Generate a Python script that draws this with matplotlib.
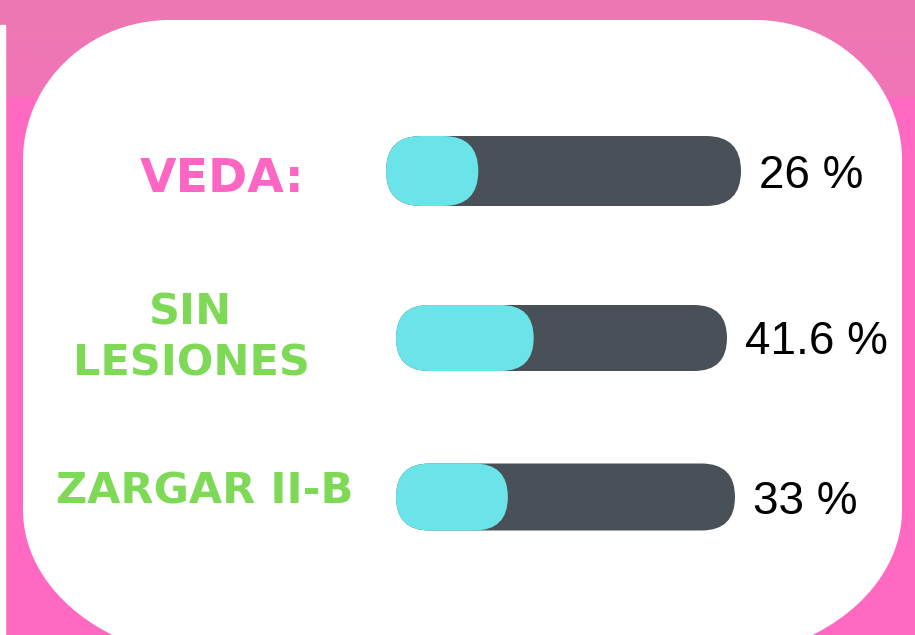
import numpy as np
import matplotlib
matplotlib.use('Agg')
import matplotlib.pyplot as plt
from matplotlib.patches import FancyBboxPatch, Rectangle, Polygon

# DATA
labels = ["VEDA:", "SIN\nLESIONES", "ZARGAR II-B"]
values = [26, 41.6, 33]
value_text = ["26 %", "41.6 %", "33 %"]
label_colors = ["#ff66c4", "#7ed957", "#7ed957"]

# LAYOUT (pixel coords, y down)
W, H = 915, 635
track_x = [386, 396, 396]
track_w = [355, 331, 339]
track_cy = [171, 338, 497]
track_h = [70, 66, 67]
label_cx = [222, 191, 205]
label_cy = [180, 338, 491]
label_size = [34, 31, 31]

fig = plt.figure(figsize=(W / 100, H / 100), dpi=100)
ax = fig.add_axes([0, 0, 1, 1])
ax.set_xlim(0, W)
ax.set_ylim(H, 0)
ax.axis('off')

# background: muted pink band on top, brighter pink below
ax.add_patch(Rectangle((0, 0), W, H, color="#ff69c1", zorder=0))
grad = np.linspace(0, 1, 100).reshape(-1, 1)
top_cmap = matplotlib.colors.LinearSegmentedColormap.from_list("t", ["#ec79b2", "#f274b8"])
ax.imshow(grad, cmap=top_cmap, extent=(0, W, 97, 0), aspect='auto', zorder=0.5)
ax.add_patch(Rectangle((0, 25), 5, H, color="white", zorder=0.6))


# white card, elliptical corners (bigger ones at the bottom)
def card_outline(left, top, right, bottom, tr, br):
    pts = []
    t = np.linspace(0, np.pi / 2, 40)
    # top-left, top-right, bottom-right, bottom-left
    rx, ry = tr
    pts += list(zip(left + rx - rx * np.cos(t), top + ry - ry * np.sin(t)))
    pts += list(zip(right - rx + rx * np.sin(t), top + ry - ry * np.cos(t)))
    rx, ry = br
    pts += list(zip(right - rx + rx * np.cos(t), bottom - ry + ry * np.sin(t)))
    pts += list(zip(left + rx - rx * np.sin(t), bottom - ry + ry * np.cos(t)))
    return np.array(pts)


ax.add_patch(Polygon(card_outline(23, 20, 902, 660, (147, 140), (200, 150)),
                     closed=True, fc="white", ec="none", zorder=1))


def pill(x, cy, w, h, color, z):
    p = FancyBboxPatch((x, cy - h / 2), w, h,
                       boxstyle=f"round,pad=0,rounding_size={h / 2}",
                       fc=color, ec="none", zorder=z)
    ax.add_patch(p)


for i in range(len(values)):
    pill(track_x[i], track_cy[i], track_w[i], track_h[i], "#4a5058", 2)
    pill(track_x[i], track_cy[i], track_w[i] * values[i] / 100, track_h[i], "#6ae4e8", 3)
    ax.text(track_x[i] + track_w[i] + 18, track_cy[i] + 16.5, value_text[i],
            fontsize=33, family="Liberation Sans", color="black",
            ha="left", va="baseline", zorder=4)
    ax.text(label_cx[i], label_cy[i], labels[i], fontsize=label_size[i],
            family="DejaVu Sans", fontweight="bold", color=label_colors[i],
            ha="center", va="center", multialignment="center",
            linespacing=1.28, zorder=4)

fig.savefig("out.png", dpi=100)
